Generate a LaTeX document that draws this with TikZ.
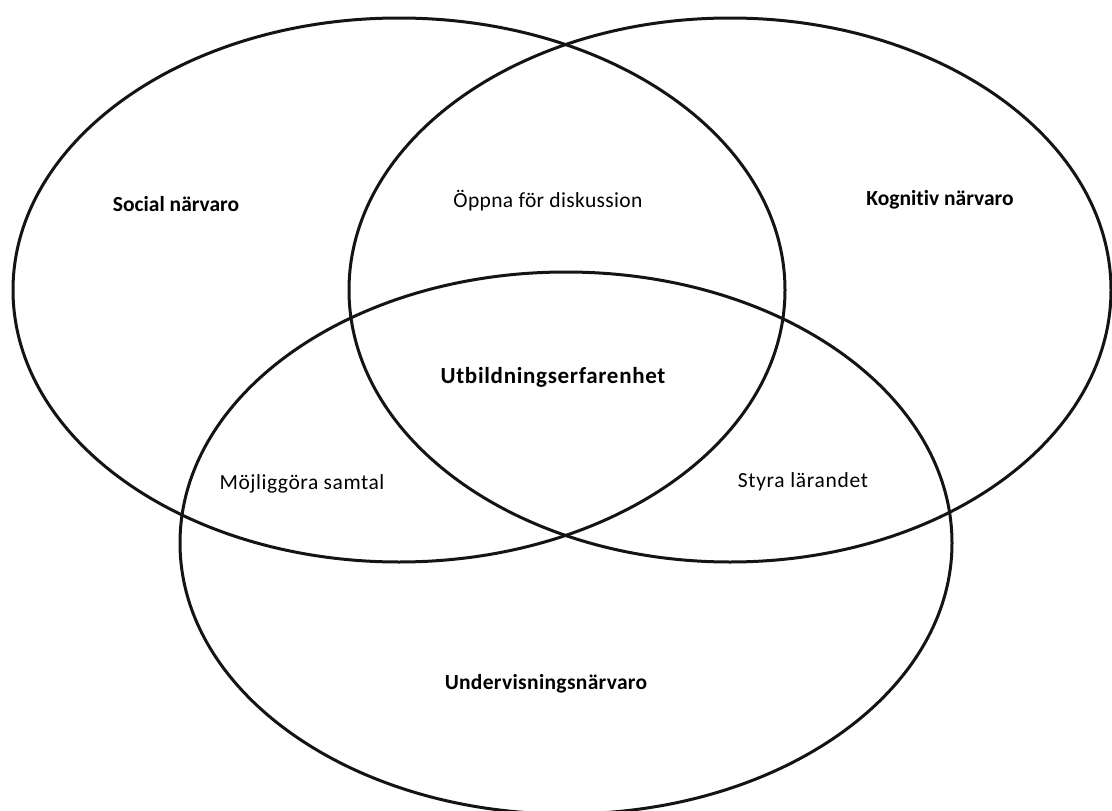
\documentclass[tikz,border=0pt]{standalone}
\usepackage{fontspec}
\setmainfont[RawFeature=-liga]{Carlito}
\begin{document}
\begin{tikzpicture}[x=1pt,y=-1pt,
  ring/.style={line width=3pt, draw=black!92},
  lbl/.style={font=\fontsize{21.5}{24}\selectfont, inner sep=0pt, text=black, anchor=base},
  blbl/.style={lbl, font=\fontsize{21.5}{24}\selectfont\bfseries}]
\useasboundingbox (0,0) rectangle (1112,811);
\fill[white] (0,0) rectangle (1112,811);
\clip (0,0) rectangle (1112,811);
\draw[ring] (399,290) ellipse [x radius=386pt, y radius=272pt];
\draw[ring] (730,290) ellipse [x radius=381pt, y radius=272pt];
\draw[ring] (566,543) ellipse [x radius=386pt, y radius=271pt];
\node[blbl] (social) at (176,211) {Social närvaro};
\node[lbl] (oppna) at (548,207) {\addfontfeature{LetterSpace=1.7}Öppna för diskussion};
\node[blbl] (kogn) at (940,205) {Kognitiv närvaro};
\node[blbl, font=\fontsize{23}{26}\selectfont\bfseries] (utb) at (553,383) {\addfontfeature{LetterSpace=3}Utbildningserfarenhet};
\node[lbl] (moj) at (302,489) {\addfontfeature{LetterSpace=2.6}Möjliggöra samtal};
\node[lbl] (styra) at (803,487) {\addfontfeature{LetterSpace=3.2}Styra lärandet};
\node[blbl] (underv) at (546,689) {\addfontfeature{LetterSpace=1.5}Undervisningsnärvaro};
\end{tikzpicture}
\end{document}
